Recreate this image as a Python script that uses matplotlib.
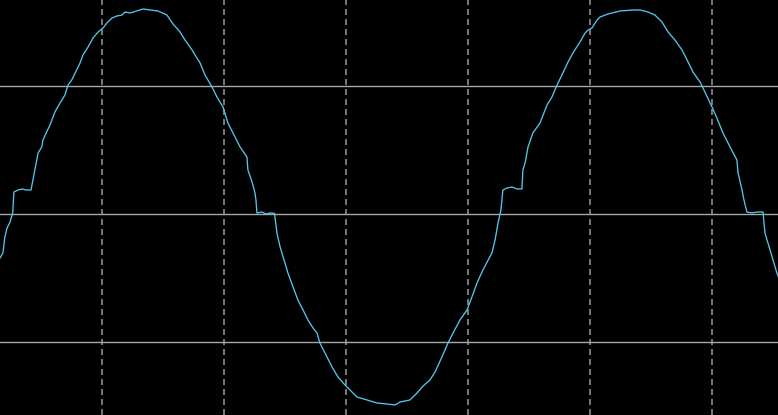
import matplotlib
matplotlib.use("Agg")
import matplotlib.pyplot as plt

# scope trace, time in ms (5 ms/div), voltage in V (200 V/div)
t_ms = [0.82, 0.94, 1.02, 1.11, 1.23, 1.34, 1.39, 1.56, 1.72, 1.89, 2.09, 2.17,
        2.30, 2.38, 2.53, 2.58, 2.73, 2.87, 3.07, 3.28, 3.48, 3.61, 3.76, 3.96,
        4.10, 4.22, 4.43, 4.63, 4.84, 5.04, 5.20, 5.41, 5.61, 5.82, 5.94, 6.15,
        6.68, 6.97, 7.30, 7.66, 7.91, 8.20, 8.40, 8.69, 9.02, 9.22, 9.34, 9.51,
        9.71, 9.96, 10.16, 10.45, 10.66, 10.94, 10.98, 11.15, 11.27, 11.31, 11.35,
        11.56, 11.72, 11.89, 12.07, 12.17, 12.30, 12.50, 12.62, 12.83, 13.03,
        13.24, 13.44, 13.65, 13.81, 13.93, 14.14, 14.43, 14.67, 14.96, 15.45,
        15.86, 16.27, 16.68, 17.01, 17.21, 17.62, 17.91, 18.16, 18.44, 18.65,
        18.93, 19.18, 19.39, 19.67, 19.96, 20.16, 20.37, 20.61, 20.98, 21.11,
        21.23, 21.35, 21.43, 21.60, 21.80, 22.01, 22.21, 22.25, 22.34, 22.46,
        22.66, 22.95, 23.24, 23.44, 23.65, 23.85, 24.10, 24.30, 24.59, 24.80,
        24.92, 25.08, 25.29, 25.41, 25.74, 26.23, 26.76, 27.05, 27.38, 27.66,
        27.95, 28.20, 28.48, 28.77, 29.02, 29.22, 29.51, 29.71, 30.00, 30.20,
        30.45, 30.74, 31.02, 31.07, 31.23, 31.31, 31.43, 31.64, 31.84, 32.09,
        32.17, 32.38, 32.66, 32.74]
volts = [-68.8, -60.9, -35.9, -21.9, -12.5, 1.6, 34.4, 37.5, 39.1, 37.5, 37.5, 53.1,
         79.7, 95.3, 104.7, 115.6, 128.1, 139.1, 159.4, 173.4, 185.9, 201.6, 209.4, 225.0,
         235.9, 248.4, 260.9, 275.0, 284.4, 290.6, 298.4, 306.3, 309.4, 310.9, 315.6, 314.1,
         320.3, 318.8, 317.2, 310.9, 296.9, 284.4, 271.9, 256.3, 235.9, 217.2, 209.4, 198.4,
         182.8, 167.2, 142.2, 120.3, 104.7, 89.1, 68.8, 50.0, 32.8, 21.9, 1.6,
         3.1, 0.0, 1.6, 1.0, -29.7, -51.6, -76.6, -92.2, -114.1, -134.4,
         -150.0, -165.6, -178.1, -185.9, -201.6, -217.2, -239.1, -254.7, -267.2, -285.9,
         -290.6, -295.3, -296.9, -298.4, -293.8, -290.6, -279.7, -268.8, -259.4, -246.9,
         -223.4, -201.6, -185.9, -165.6, -150.0, -129.7, -107.8, -87.5, -60.9, -40.6,
         -14.1, 6.3, 37.5, 40.6, 42.2, 39.1, 39.1, 68.8, 79.7, 104.7,
         126.6, 142.2, 170.3, 182.8, 201.6, 217.2, 237.5, 251.6, 268.8, 282.8,
         287.5, 290.6, 303.1, 307.8, 312.5, 317.2, 318.8, 318.8, 315.6, 310.9,
         300.0, 284.4, 271.9, 256.3, 237.5, 221.9, 206.3, 190.6, 167.2, 150.0,
         126.6, 104.7, 84.4, 64.1, 37.5, 21.9, 3.1, 1.6, 3.1, 3.1,
         -29.7, -56.3, -92.2, -100.0]

time_grid = [5, 10, 15, 20, 25, 30]
volt_grid = [-200, 0, 200]

plt.rcParams["lines.scale_dashes"] = False
fig = plt.figure(figsize=(7.78, 4.15), dpi=100)
fig.patch.set_facecolor("black")
ax = fig.add_axes([0, 0, 1, 1])
ax.set_facecolor("black")

for t in time_grid:
    ax.axvline(t, color="#7a7a7a", lw=1.4, linestyle=(0, (4.3, 2.9)), zorder=1)
for v in volt_grid:
    ax.axhline(v, color="#a8a8a8", lw=1.0, zorder=1)

ax.plot(t_ms, volts, color="#56c5e8", lw=0.95, zorder=3)

ax.set_xlim(20 / 24.4, 798 / 24.4)
ax.set_ylim(-201 * 1.5625, 214 * 1.5625)
ax.axis("off")

fig.savefig("out.png", dpi=100, facecolor="black")
